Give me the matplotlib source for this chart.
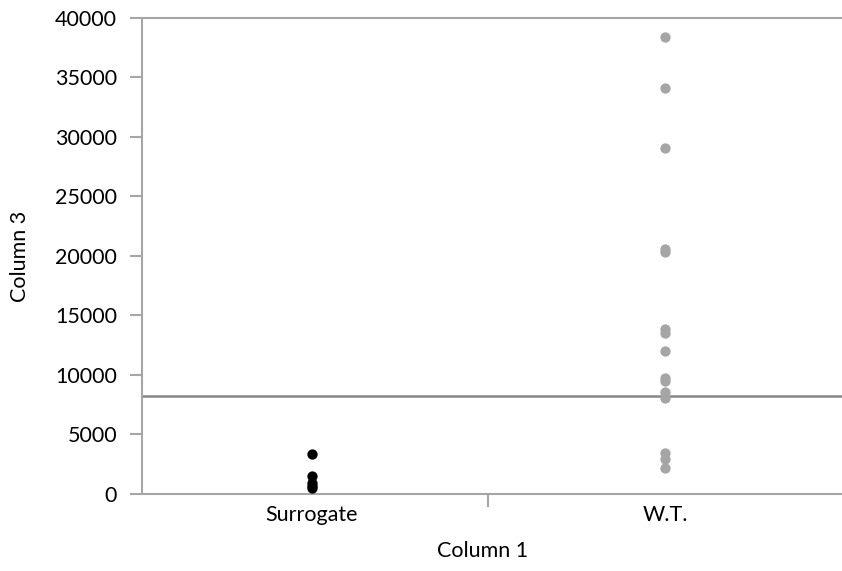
import numpy as np
import matplotlib.pyplot as plt
import matplotlib as mpl

plt.rcParams['font.family'] = ['Lato', 'DejaVu Sans']
mpl.rcParams['xtick.direction'] = 'out'
mpl.rcParams['ytick.direction'] = 'out'

# data
categories = ['Surrogate', 'W.T.']
surrogate = [3400, 1550, 950, 700, 500]
wt = [38400, 34100, 29100, 20550, 20350, 13850, 13500, 12050,
      9750, 9500, 8550, 8050, 3450, 2950, 2200]
ref_level = 8250
yticks = np.arange(0, 40001, 5000)

fig = plt.figure(figsize=(8.42, 5.71), dpi=100)
ax = fig.add_axes([0.1686, 0.1349, 0.8314, 0.8336])

ax.scatter(np.zeros(len(surrogate)), surrogate, s=55, c='black', linewidths=0, zorder=3)
ax.scatter(np.ones(len(wt)), wt, s=55, c='#a5a5a5', linewidths=0, zorder=3)
ax.axhline(ref_level, color='#878787', linewidth=1.8, zorder=2)

ax.set_xlim(-0.48, 1.5)
ax.set_ylim(0, 40000)

spc = '#a6a6a6'
for s in ['left', 'bottom', 'top']:
    ax.spines[s].set_color(spc)
    ax.spines[s].set_linewidth(1.5)
ax.spines['right'].set_visible(False)

fs = 15.5
ax.set_yticks(yticks)
ax.set_yticklabels([str(v) for v in yticks], fontsize=fs)
ax.tick_params(axis='y', length=9, width=1.5, color=spc, pad=9)

ax.set_xticks([0.5])
ax.set_xticklabels([''])
ax.tick_params(axis='x', length=9, width=1.5, color=spc)
for i, c in enumerate(categories):
    ax.text(i, -1800, c, ha='center', va='center', fontsize=fs)

fig.text(483 / 842, 1 - 551 / 571, 'Column 1', ha='center', va='center', fontsize=fs)
fig.text(20 / 842, 1 - 256 / 571, 'Column 3', ha='center', va='center', rotation=90, fontsize=fs)

plt.savefig('out.png', dpi=100)
